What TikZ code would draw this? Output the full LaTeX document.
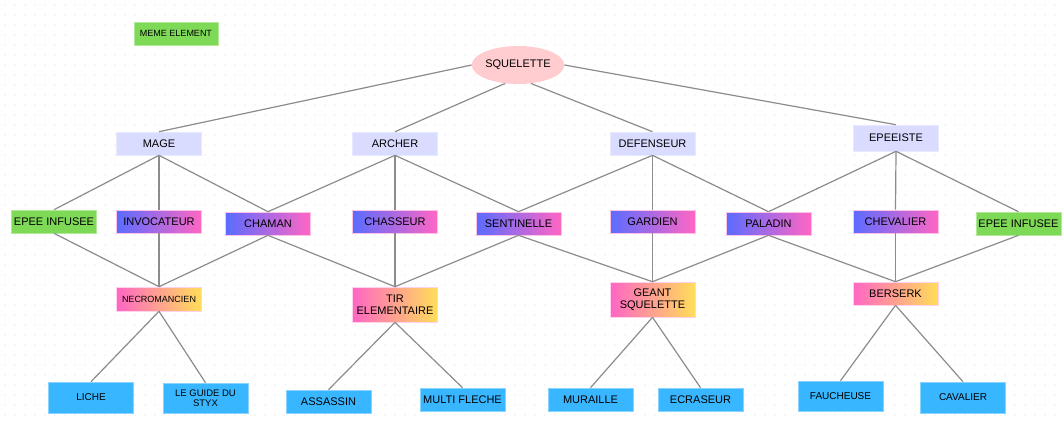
\documentclass[tikz,border=0pt]{standalone}
\usepackage{fontspec}
\setmainfont{Liberation Sans}
\usetikzlibrary{shapes.geometric}
\definecolor{lgreen}{HTML}{7ED957}
\definecolor{lav}{HTML}{D9DBFF}
\definecolor{pinkell}{HTML}{FFCCD0}
\definecolor{gblue}{HTML}{5B6CFF}
\definecolor{gpink}{HTML}{FF66C4}
\definecolor{gyellow}{HTML}{FFDE59}
\definecolor{sky}{HTML}{38B6FF}
\definecolor{edgegray}{HTML}{8C8C8C}
\definecolor{dotgray}{HTML}{DADADA}
\tikzset{
  box/.style={rectangle, inner sep=0pt, minimum width=85pt, minimum height=23pt, align=center, font=\fontsize{11}{12}\selectfont, text=black},
  greenbox/.style={box, fill=lgreen, draw=lgreen!60!white, line width=0.6pt},
  lavbox/.style={box, fill=lav, draw=lav!60!white, line width=0.6pt},
  gradbox/.style={box, left color=gblue, right color=gpink, draw=gpink!40!white, line width=0.6pt},
  warmbox/.style={box, left color=gpink, right color=gyellow, draw=gpink!30!white, line width=0.6pt},
  skybox/.style={box, fill=sky, draw=sky!60!white, line width=0.6pt},
  link/.style={draw=edgegray, line width=1.2pt}
}
\begin{document}
\begin{tikzpicture}[x=1pt,y=-1pt]
\useasboundingbox (0,0) rectangle (1064,421);
\fill[white] (0,0) rectangle (1064,421);
\foreach \i in {0,...,106}{
  \foreach \j in {0,...,42}{
    \fill[dotgray] (\i*10+5,\j*10+5) circle (0.6pt);
  }
}
% nodes
\node[greenbox, minimum width=84pt, font=\fontsize{9}{10}\selectfont] (meme) at (176,33.5) {MEME ELEMENT};
\node[ellipse, fill=pinkell, minimum width=90pt, minimum height=38pt, inner sep=0pt, font=\fontsize{11}{12}\selectfont, text=black] (sq) at (518,65) {SQUELETTE};

\node[lavbox] (mage) at (159,143.5) {MAGE};
\node[lavbox] (archer) at (395,143.5) {ARCHER};
\node[lavbox] (def) at (652.5,143.5) {DEFENSEUR};
\node[lavbox, minimum height=26pt] (epee) at (896,138) {EPEEISTE};

\node[greenbox] (epeeL) at (54,221.5) {EPEE INFUSEE};
\node[gradbox] (invoc) at (159,221.5) {INVOCATEUR};
\node[gradbox] (chaman) at (268,223.5) {CHAMAN};
\node[gradbox] (chass) at (395,221.5) {CHASSEUR};
\node[gradbox] (senti) at (518.5,223.5) {SENTINELLE};
\node[gradbox] (gard) at (652.5,221.5) {GARDIEN};
\node[gradbox] (pala) at (768.5,223.5) {PALADIN};
\node[gradbox] (cheva) at (895.5,221.5) {CHEVALIER};
\node[greenbox] (epeeR) at (1018.5,223.5) {EPEE INFUSEE};

\node[warmbox, minimum height=24pt, font=\fontsize{9}{10}\selectfont] (necro) at (159,299) {NECROMANCIEN};
\node[warmbox, minimum height=35pt] (tir) at (395,304.5) {TIR\\ELEMENTAIRE};
\node[warmbox, minimum height=35pt] (geant) at (652.5,299.5) {GEANT\\SQUELETTE};
\node[warmbox] (bers) at (895.5,293.5) {BERSERK};

\node[skybox, minimum height=31pt, font=\fontsize{10}{11}\selectfont] (liche) at (91,397.5) {LICHE};
\node[skybox, minimum height=30pt, font=\fontsize{9.5}{10.5}\selectfont] (styx) at (205.5,398) {LE GUIDE DU\\STYX};
\node[skybox] (assa) at (328.5,401.5) {ASSASSIN};
\node[skybox] (multi) at (462.5,399.5) {MULTI FLECHE};
\node[skybox] (mura) at (590.5,399.5) {MURAILLE};
\node[skybox] (ecra) at (700.5,399.5) {ECRASEUR};
\node[skybox, minimum height=30pt, font=\fontsize{10}{11}\selectfont] (fauch) at (840.5,396) {FAUCHEUSE};
\node[skybox, minimum height=31pt, font=\fontsize{10}{11}\selectfont] (cava) at (963,397.5) {CAVALIER};

% edges
\draw[link] (sq.west) -- (mage.north);
\draw[link] (sq.235) -- (archer.north);
\draw[link] (sq.-55) -- (def.north);
\draw[link] (sq.east) -- (epee.north);
\foreach \t in {epeeL,invoc,chaman}{ \draw[link] (mage.south) -- (\t.north); }
\foreach \t in {chaman,chass,senti}{ \draw[link] (archer.south) -- (\t.north); }
\foreach \t in {senti,gard,pala}{ \draw[link] (def.south) -- (\t.north); }
\foreach \t in {pala,cheva,epeeR}{ \draw[link] (epee.south) -- (\t.north); }
\foreach \s in {epeeL,invoc,chaman}{ \draw[link] (\s.south) -- (necro.north); }
\foreach \s in {chaman,chass,senti}{ \draw[link] (\s.south) -- (tir.north); }
\foreach \s in {senti,gard,pala}{ \draw[link] (\s.south) -- (geant.north); }
\foreach \s in {pala,cheva,epeeR}{ \draw[link] (\s.south) -- (bers.north); }
\draw[link] (necro.south) -- (liche.north);
\draw[link] (necro.south) -- (styx.north);
\draw[link] (tir.south) -- (assa.north);
\draw[link] (tir.south) -- (multi.north);
\draw[link] (geant.south) -- (mura.north);
\draw[link] (geant.south) -- (ecra.north);
\draw[link] (bers.south) -- (fauch.north);
\draw[link] (bers.south) -- (cava.north);
\end{tikzpicture}
\end{document}
